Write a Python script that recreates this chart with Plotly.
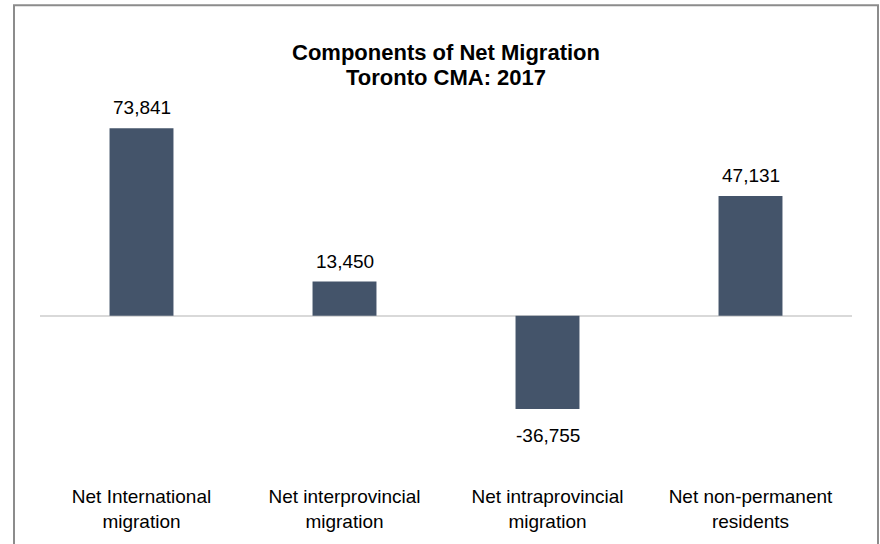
import plotly.graph_objects as go

# Components of net migration, Toronto CMA, 2017
categories = [
    "Net International<br>migration",
    "Net interprovincial<br>migration",
    "Net intraprovincial<br>migration",
    "Net non-permanent<br>residents",
]
values = [73841, 13450, -36755, 47131]
title_lines = ["Components of Net Migration", "Toronto CMA: 2017"]

bar_color = "#44546A"
font_family = "Liberation Sans, Arial, sans-serif"

# plot area geometry in pixels (used for paper-coordinate placements)
W, H = 880, 544
M_L, M_R, M_T, M_B = 40, 28, 100, 56
plot_w = W - M_L - M_R
plot_h = H - M_T - M_B


def px_to_paper_y(py):
    return 1 + (M_T - py) / plot_h


def px_to_paper_x(px):
    return (px - M_L) / plot_w


fig = go.Figure(
    go.Bar(
        x=categories,
        y=values,
        marker=dict(color=bar_color, line=dict(width=0)),
        width=0.315,
        hoverinfo="x+y",
    )
)

# value labels above positive bars and below negative ones
annotations = []
for cat, val in zip(categories, values):
    annotations.append(
        dict(
            x=cat,
            y=val,
            xref="x",
            yref="y",
            text=f"{val:,}",
            showarrow=False,
            yanchor="bottom" if val >= 0 else "top",
            yshift=8 if val >= 0 else -14,
            font=dict(family=font_family, size=19, color="#000000"),
        )
    )

# two-line bold title with tight line spacing
for line, py in zip(title_lines, [52, 77]):
    annotations.append(
        dict(
            x=0.5,
            y=px_to_paper_y(py),
            xref="paper",
            yref="paper",
            text=f"<b>{line}</b>",
            showarrow=False,
            xanchor="center",
            yanchor="middle",
            font=dict(family=font_family, size=22, color="#000000"),
        )
    )

fig.update_layout(
    width=W,
    height=H,
    margin=dict(l=M_L, r=M_R, t=M_T, b=M_B),
    paper_bgcolor="white",
    plot_bgcolor="white",
    showlegend=False,
    annotations=annotations,
    xaxis=dict(
        showgrid=False,
        showline=False,
        ticks="",
        tickfont=dict(family=font_family, size=19, color="#000000"),
    ),
    yaxis=dict(
        range=[-65873, 84917],
        showgrid=False,
        showticklabels=False,
        showline=False,
        ticks="",
        zeroline=True,
        zerolinecolor="#d9d9d9",
        zerolinewidth=2,
    ),
    shapes=[
        dict(
            type="rect",
            xref="paper",
            yref="paper",
            x0=px_to_paper_x(14),
            x1=px_to_paper_x(878),
            y0=px_to_paper_y(560),
            y1=px_to_paper_y(4),
            line=dict(color="#8c8c8c", width=2),
            fillcolor="rgba(0,0,0,0)",
            layer="below",
        )
    ],
)

fig.write_html("out.html")
